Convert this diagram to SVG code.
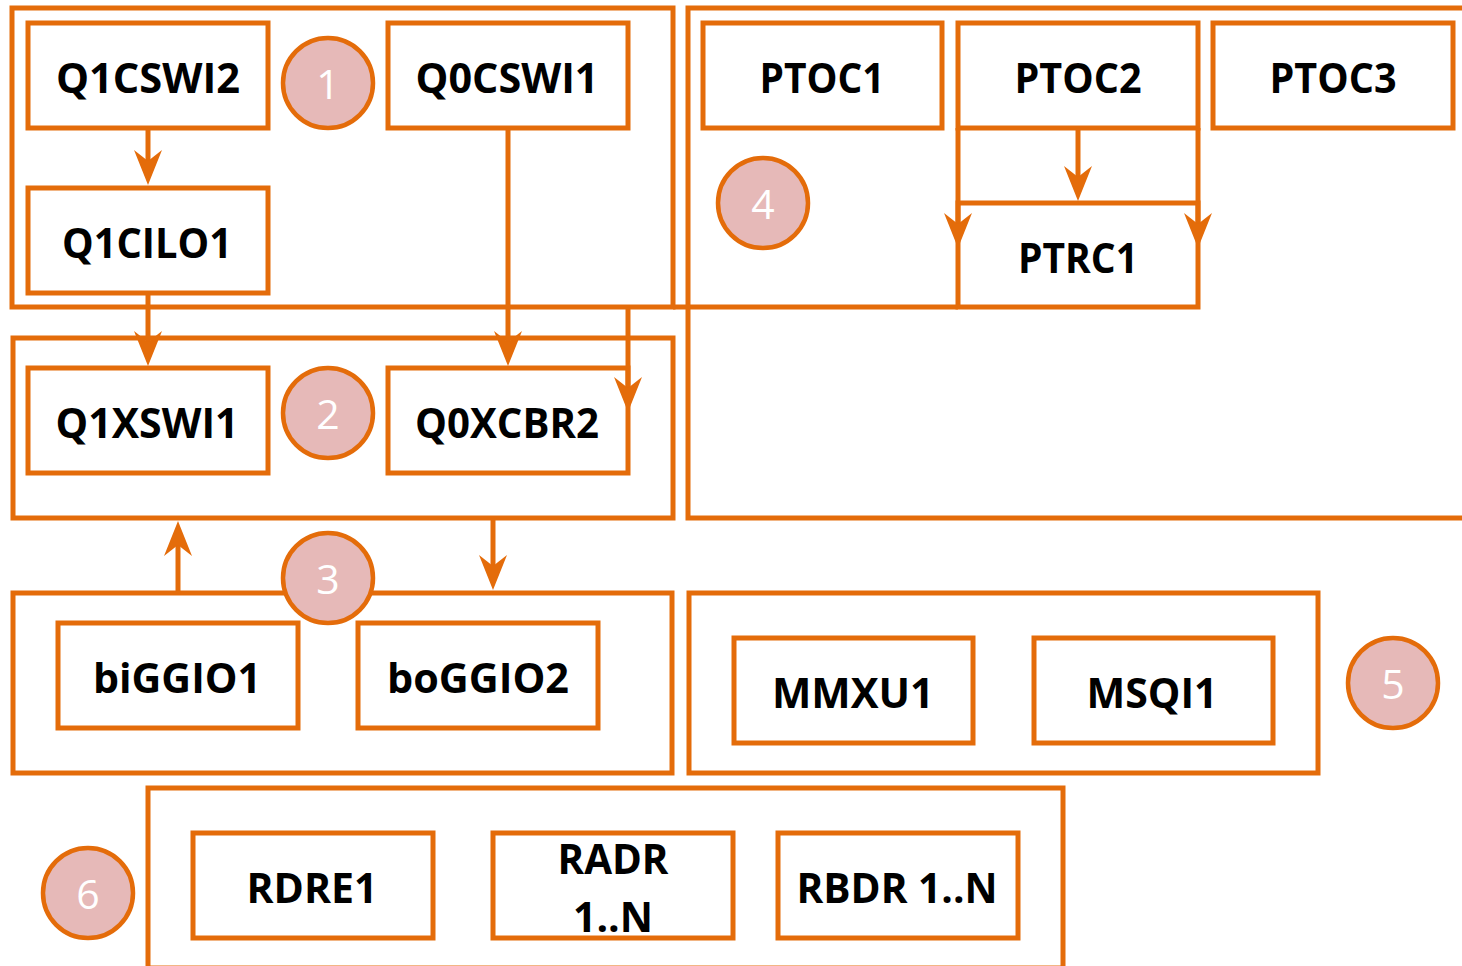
<svg xmlns="http://www.w3.org/2000/svg" width="1462" height="966" viewBox="0 0 1462 966">
<style>
.box{fill:#fff;stroke:#E46C0A;stroke-width:5}
.grp{fill:none;stroke:#E46C0A;stroke-width:5}
.ln{fill:none;stroke:#E46C0A;stroke-width:5}
.c{fill:#E6B9B8;stroke:#E46C0A;stroke-width:4.5}
.t{font-family:"Open Sans","Liberation Sans",sans-serif;font-weight:700;font-size:42px;fill:#000;text-anchor:middle}
.n{font-family:"Open Sans","Liberation Sans",sans-serif;font-weight:400;font-size:41px;fill:#fff;text-anchor:middle}
</style>
<defs>
<marker id="ah" markerUnits="userSpaceOnUse" markerWidth="50" markerHeight="40" viewBox="-30 -20 50 40" refX="0" refY="0" orient="auto">
<path d="M10,0 L-25,-14 L-14,0 L-25,14 Z" fill="#E46C0A"/>
</marker>
</defs>
<rect width="1462" height="966" fill="#fff"/>
<g id="groups">
<rect id="group1" class="grp" x="12" y="8" width="661" height="299"/>
<rect id="group2" class="grp" x="13" y="338" width="660" height="180"/>
<rect id="group3" class="grp" x="13" y="593" width="659" height="180"/>
<rect id="group4" class="grp" x="688" y="8" width="800" height="510"/>
<line class="ln" x1="673" y1="307" x2="958" y2="307"/>
<rect id="group5" class="grp" x="689" y="593" width="629" height="180"/>
<rect id="group6" class="grp" x="148" y="788" width="915" height="180"/>
</g>
<g id="Q1CSWI2"><rect class="box" x="28" y="23" width="240" height="105"/><text class="t" x="148" y="93" textLength="184" lengthAdjust="spacingAndGlyphs">Q1CSWI2</text></g>
<g id="Q0CSWI1"><rect class="box" x="388" y="23" width="240" height="105"/><text class="t" x="507" y="93" textLength="183" lengthAdjust="spacingAndGlyphs">Q0CSWI1</text></g>
<g id="Q1CILO1"><rect class="box" x="28" y="188" width="240" height="105"/><text class="t" x="147" y="258" textLength="170" lengthAdjust="spacingAndGlyphs">Q1CILO1</text></g>
<g id="Q1XSWI1"><rect class="box" x="28" y="368" width="240" height="105"/><text class="t" x="147" y="438" textLength="183" lengthAdjust="spacingAndGlyphs">Q1XSWI1</text></g>
<g id="Q0XCBR2"><rect class="box" x="388" y="368" width="240" height="105"/><text class="t" x="507" y="438" textLength="184" lengthAdjust="spacingAndGlyphs">Q0XCBR2</text></g>
<g id="PTOC1"><rect class="box" x="703" y="23" width="239" height="105"/><text class="t" x="822" y="93" textLength="125" lengthAdjust="spacingAndGlyphs">PTOC1</text></g>
<g id="PTOC2"><rect class="box" x="958" y="23" width="240" height="105"/><text class="t" x="1078" y="93" textLength="127" lengthAdjust="spacingAndGlyphs">PTOC2</text></g>
<g id="PTOC3"><rect class="box" x="1213" y="23" width="240" height="105"/><text class="t" x="1333" y="93" textLength="127" lengthAdjust="spacingAndGlyphs">PTOC3</text></g>
<g id="PTRC1"><rect class="box" x="958" y="203" width="240" height="104"/><text class="t" x="1078" y="273" textLength="120" lengthAdjust="spacingAndGlyphs">PTRC1</text></g>
<g id="biGGIO1"><rect class="box" x="58" y="623" width="240" height="105"/><text class="t" x="177" y="693" textLength="168" lengthAdjust="spacingAndGlyphs">biGGIO1</text></g>
<g id="boGGIO2"><rect class="box" x="358" y="623" width="240" height="105"/><text class="t" x="478" y="693" textLength="182" lengthAdjust="spacingAndGlyphs">boGGIO2</text></g>
<g id="MMXU1"><rect class="box" x="734" y="638" width="239" height="105"/><text class="t" x="853" y="708" textLength="162" lengthAdjust="spacingAndGlyphs">MMXU1</text></g>
<g id="MSQI1"><rect class="box" x="1034" y="638" width="239" height="105"/><text class="t" x="1152" y="708" textLength="131" lengthAdjust="spacingAndGlyphs">MSQI1</text></g>
<g id="RDRE1"><rect class="box" x="193" y="833" width="240" height="105"/><text class="t" x="312" y="903" textLength="131" lengthAdjust="spacingAndGlyphs">RDRE1</text></g>
<g id="RADR"><rect class="box" x="493" y="833" width="240" height="105"/><text class="t" x="613" y="874" textLength="111" lengthAdjust="spacingAndGlyphs">RADR</text><text class="t" x="613" y="932" textLength="80" lengthAdjust="spacingAndGlyphs">1..N</text></g>
<g id="RBDR"><rect class="box" x="778" y="833" width="240" height="105"/><text class="t" x="897" y="903" textLength="201" lengthAdjust="spacingAndGlyphs">RBDR 1..N</text></g>
<g id="connectors">
<line class="ln" x1="148" y1="128" x2="148" y2="175" marker-end="url(#ah)"/>
<line class="ln" x1="148" y1="293" x2="148" y2="356" marker-end="url(#ah)"/>
<line class="ln" x1="508" y1="128" x2="508" y2="356" marker-end="url(#ah)"/>
<line class="ln" x1="628" y1="307" x2="628" y2="402" marker-end="url(#ah)"/>
<line class="ln" x1="1078" y1="128" x2="1078" y2="191" marker-end="url(#ah)"/>
<line class="ln" x1="958" y1="128" x2="958" y2="238" marker-end="url(#ah)"/>
<line class="ln" x1="1198" y1="128" x2="1198" y2="238" marker-end="url(#ah)"/>
<line class="ln" x1="178" y1="593" x2="178" y2="531" marker-end="url(#ah)"/>
<line class="ln" x1="493" y1="518" x2="493" y2="580" marker-end="url(#ah)"/>
</g>
<g id="circle1"><circle class="c" cx="328" cy="83" r="45"/><text class="n" x="328" y="99">1</text></g>
<g id="circle2"><circle class="c" cx="328" cy="413" r="45"/><text class="n" x="328" y="429">2</text></g>
<g id="circle3"><circle class="c" cx="328" cy="578" r="45"/><text class="n" x="328" y="594">3</text></g>
<g id="circle4"><circle class="c" cx="763" cy="203" r="45"/><text class="n" x="763" y="219">4</text></g>
<g id="circle5"><circle class="c" cx="1393" cy="683" r="45"/><text class="n" x="1393" y="699">5</text></g>
<g id="circle6"><circle class="c" cx="88" cy="893" r="45"/><text class="n" x="88" y="909">6</text></g>
</svg>
